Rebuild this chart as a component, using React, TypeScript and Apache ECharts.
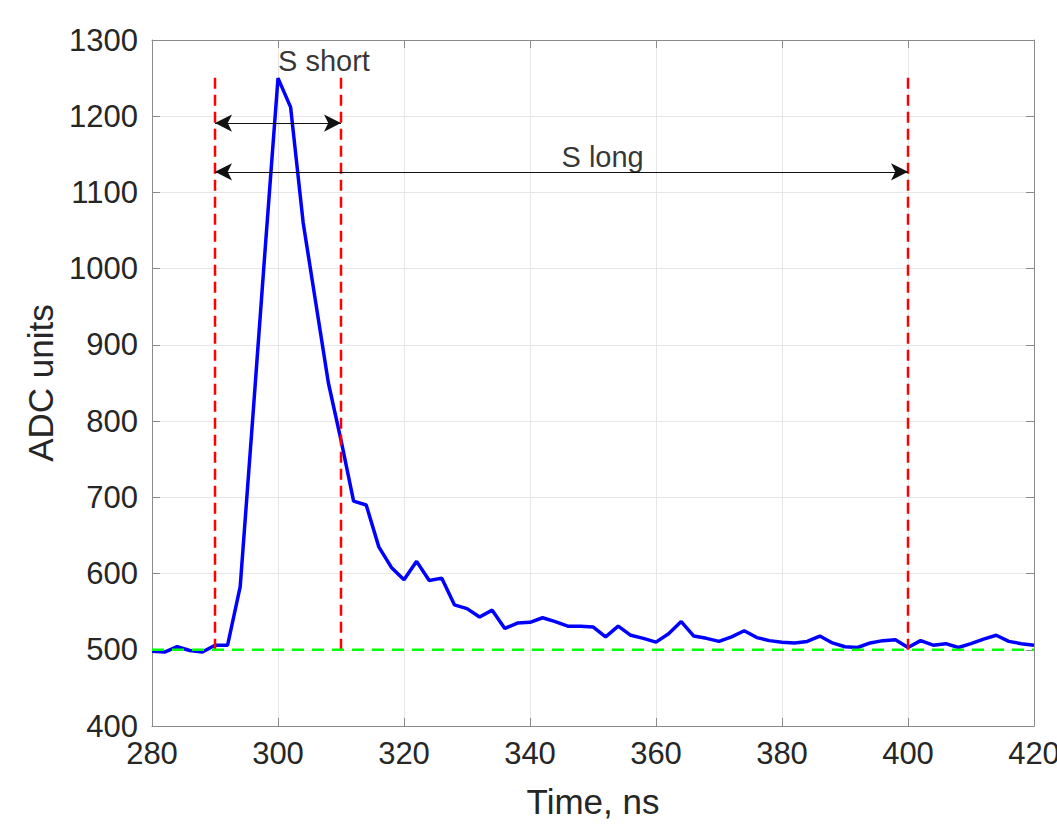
import React, { useEffect, useRef } from "react";
import * as echarts from "echarts";

const times = [
  280, 282, 284, 286, 288, 290, 292, 294, 296, 298,
  300, 302, 304, 306, 308, 310, 312, 314, 316, 318,
  320, 322, 324, 326, 328, 330, 332, 334, 336, 338,
  340, 342, 344, 346, 348, 350, 352, 354, 356, 358,
  360, 362, 364, 366, 368, 370, 372, 374, 376, 378,
  380, 382, 384, 386, 388, 390, 392, 394, 396, 398,
  400, 402, 404, 406, 408, 410, 412, 414, 416, 418,
  420,
];

const adc = [
  498, 497, 504, 499, 497, 506, 506, 583, 805, 1030,
  1250, 1212, 1060, 955, 850, 775, 695, 690, 635, 608,
  592, 616, 591, 594, 559, 554, 543, 552, 528, 535,
  536, 542, 537, 531, 531, 530, 517, 531, 519, 515,
  510, 521, 537, 518, 515, 511, 517, 525, 516, 512,
  510, 509, 511, 518, 509, 504, 503, 509, 512, 513,
  503, 512, 506, 508, 503, 508, 514, 519, 511, 508,
  506,
];

const baseline = 500;
const gateTimes = [290, 310, 400];
const gateTop = 1255;
const shortArrow = { from: 290, to: 310, y: 1191 };
const longArrow = { from: 290, to: 400, y: 1127 };
const labels = [
  { text: "S short", x: 300, y: 1273 },
  { text: "S long", x: 345, y: 1147 },
];

const xTicks = { min: 280, max: 420, interval: 20 };
const yTicks = { min: 400, max: 1300, interval: 100 };

export default function App() {
  const ref = useRef<HTMLDivElement>(null);

  useEffect(() => {
    if (!ref.current) return;
    const chart = echarts.init(ref.current, null, { renderer: "svg" });
    const frameColor = "#8a8a8a";
    const textColor = "#262626";
    const font = "'Liberation Sans', Arial, Helvetica, sans-serif";

    const series: any[] = [
      {
        type: "line",
        name: "signal",
        data: times.map((t, i) => [t, adc[i]]),
        showSymbol: false,
        symbol: "none",
        lineStyle: { color: "#0000ff", width: 3.5 },
        z: 2,
      },
    ];

    gateTimes.forEach((g) => {
      series.push({
        type: "line",
        data: [
          [g, baseline],
          [g, gateTop],
        ],
        symbol: "none",
        lineStyle: { color: "#ff0000", width: 2.5, type: [11, 6] },
        z: 3,
      });
    });

    series.push({
      type: "line",
      data: [
        [xTicks.min, baseline],
        [xTicks.max, baseline],
      ],
      symbol: "none",
      lineStyle: { color: "#00ff00", width: 2.5, type: [12, 8] },
      z: 4,
      markLine: {
        silent: true,
        symbol: ["arrow", "arrow"],
        symbolSize: [13, 17],
        label: { show: false },
        lineStyle: { color: "#111111", width: 1, type: "solid" },
        itemStyle: { color: "#000000" },
        data: [
          [
            { coord: [shortArrow.from, shortArrow.y] },
            { coord: [shortArrow.to, shortArrow.y] },
          ],
          [
            { coord: [longArrow.from, longArrow.y] },
            { coord: [longArrow.to, longArrow.y] },
          ],
        ],
      },
    });

    series.push({
      type: "scatter",
      data: labels.map((l) => ({ value: [l.x, l.y], name: l.text })),
      symbolSize: 0,
      z: 5,
      label: {
        show: true,
        position: "right",
        distance: 0,
        formatter: (p: any) => p.name,
        color: "#000000",
        fontSize: 29,
        fontFamily: font,
      },
    });

    chart.setOption({
      animation: false,
      backgroundColor: "#ffffff",
      grid: {
        left: 152,
        right: 23,
        top: 40,
        bottom: 100,
        containLabel: false,
        outerBoundsMode: "none",
      },
      xAxis: [
        {
          type: "value",
          min: xTicks.min,
          max: xTicks.max,
          interval: xTicks.interval,
          name: "Time, ns",
          nameLocation: "middle",
          nameGap: 58,
          nameTextStyle: { fontSize: 35, color: textColor, fontFamily: font },
          axisLine: { show: true, lineStyle: { color: frameColor, width: 1 } },
          axisTick: { show: true, inside: true, length: 8, lineStyle: { color: frameColor } },
          axisLabel: { color: textColor, fontSize: 31, margin: 12, fontFamily: font, formatter: (v: number) => String(v) },
          splitLine: { show: true, lineStyle: { color: "#e6e6e6", width: 1 } },
        },
        {
          type: "value",
          position: "top",
          min: xTicks.min,
          max: xTicks.max,
          interval: xTicks.interval,
          axisLine: { show: true, lineStyle: { color: frameColor, width: 1 } },
          axisTick: { show: true, inside: true, length: 8, lineStyle: { color: frameColor } },
          axisLabel: { show: false },
          splitLine: { show: false },
        },
      ],
      yAxis: [
        {
          type: "value",
          min: yTicks.min,
          max: yTicks.max,
          interval: yTicks.interval,
          name: "ADC units",
          nameLocation: "middle",
          nameGap: 80,
          nameTextStyle: { fontSize: 35, color: textColor, fontFamily: font },
          axisLine: { show: true, lineStyle: { color: frameColor, width: 1 } },
          axisTick: { show: true, inside: true, length: 8, lineStyle: { color: frameColor } },
          axisLabel: { color: textColor, fontSize: 31, margin: 14, fontFamily: font, formatter: (v: number) => String(v) },
          splitLine: { show: true, lineStyle: { color: "#e6e6e6", width: 1 } },
        },
        {
          type: "value",
          position: "right",
          min: yTicks.min,
          max: yTicks.max,
          interval: yTicks.interval,
          axisLine: { show: true, lineStyle: { color: frameColor, width: 1 } },
          axisTick: { show: true, inside: true, length: 8, lineStyle: { color: frameColor } },
          axisLabel: { show: false },
          splitLine: { show: false },
        },
      ],
      series,
    });

    return () => chart.dispose();
  }, []);

  return (
    <div
      ref={ref}
      style={{ position: "fixed", left: 0, top: 0, width: 1057, height: 826 }}
    />
  );
}
